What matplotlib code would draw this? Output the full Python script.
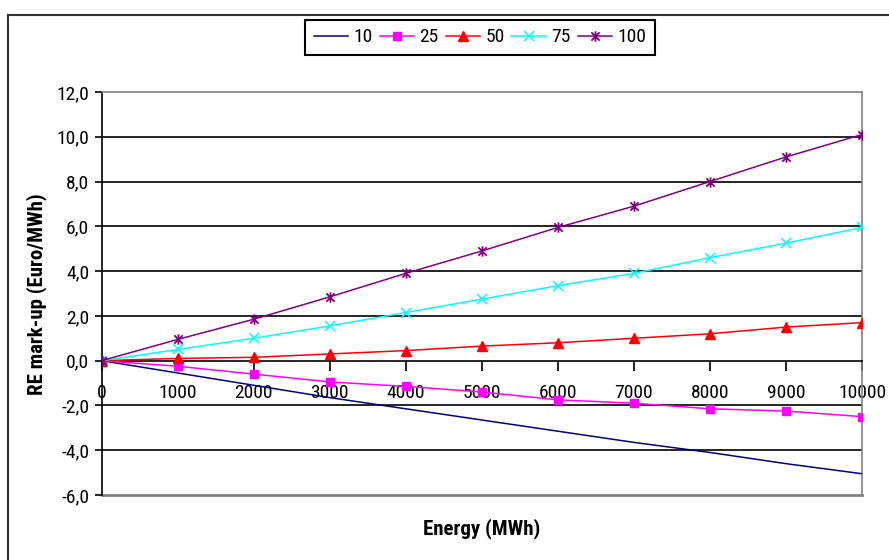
import matplotlib
matplotlib.use("Agg")
import matplotlib.pyplot as plt
from matplotlib.lines import Line2D
from matplotlib.path import Path
from matplotlib.ticker import FuncFormatter
from matplotlib import font_manager

# Energy (MWh) on the x axis
energy = [0, 1000, 2000, 3000, 4000, 5000, 6000, 7000, 8000, 9000, 10000]

# RE mark-up (Euro/MWh) for each scenario
series_labels = ["10", "25", "50", "75", "100"]
markup_10 = [0, -0.55, -1.1, -1.65, -2.15, -2.65, -3.15, -3.65, -4.1, -4.6, -5.05]
markup_25 = [0, -0.25, -0.6, -0.95, -1.15, -1.4, -1.75, -1.9, -2.15, -2.25, -2.5]
markup_50 = [0, 0.1, 0.15, 0.3, 0.45, 0.65, 0.8, 1.0, 1.2, 1.5, 1.7]
markup_75 = [0, 0.5, 1.0, 1.55, 2.15, 2.75, 3.35, 3.9, 4.6, 5.25, 5.95]
markup_100 = [0, 0.95, 1.85, 2.85, 3.9, 4.9, 5.95, 6.9, 8.0, 9.1, 10.1]

y_ticks = [-6, -4, -2, 0, 2, 4, 6, 8, 10, 12]
x_ticks = energy

# condensed sans for all chart text
names = {f.name for f in font_manager.fontManager.ttflist}
family = ["Roboto Condensed", "Liberation Sans", "DejaVu Sans"]
family = [f for f in family if f in names] or ["DejaVu Sans"]
plt.rcParams["font.family"] = family

FS = 14
FS_TITLE = 15

# Excel-style star marker: an X with a vertical bar
star = Path(
    [(-1, -1), (1, 1), (-1, 1), (1, -1), (0, -1.25), (0, 1.25)],
    [Path.MOVETO, Path.LINETO, Path.MOVETO, Path.LINETO, Path.MOVETO, Path.LINETO],
)

W, H = 889, 560
fig = plt.figure(figsize=(W / 100, H / 100), dpi=100)
ax = fig.add_axes([101.7 / W, 1 - 495 / H, (862 - 101.7) / W, (495 - 92) / H])

ax.set_xlim(0, 10000)
ax.set_ylim(-6, 12)

# horizontal gridlines (interior ticks except the zero axis)
for v in y_ticks:
    if v not in (y_ticks[0], y_ticks[-1], 0):
        ax.axhline(v, color="black", lw=1.2, zorder=1)

styles = [
    dict(color="#000080", marker=None),
    dict(color="#FF00FF", marker="s", ms=6),
    dict(color="#FF0000", marker="^", ms=7.5),
    dict(color="#00FFFF", marker="x", ms=7, mew=1.1),
    dict(color="#800080", marker=star, ms=7.5, mew=1.3),
]
data = [markup_10, markup_25, markup_50, markup_75, markup_100]
handles = []
for lab, vals, st in zip(series_labels, data, styles):
    (h,) = ax.plot(energy, vals, lw=1.1, label=lab, zorder=3, **st)
    handles.append(h)

# spines: black y axis, x axis through zero, grey plot-area border
ax.spines["left"].set_color("black")
ax.spines["left"].set_linewidth(1.2)
ax.spines["bottom"].set_position(("data", 0))
ax.spines["bottom"].set_color("black")
ax.spines["bottom"].set_linewidth(1.2)
for s in ("top", "right"):
    ax.spines[s].set_color("#808080")
    ax.spines[s].set_linewidth(1.2)
ax.axhline(y_ticks[0], color="#808080", lw=2.0, zorder=2, clip_on=False)

ax.set_yticks(y_ticks)
ax.yaxis.set_major_formatter(FuncFormatter(lambda v, p: f"{v:.1f}".replace(".", ",")))
ax.set_xticks(x_ticks)
ax.set_xticklabels([str(x) for x in x_ticks])
ax.tick_params(axis="y", direction="out", length=5, width=1.2, pad=4, labelsize=FS)
ax.tick_params(axis="x", direction="out", length=7, width=1.2, pad=9.5, labelsize=FS)

fig.text(482 / W, 1 - 529 / H, "Energy (MWh)", ha="center", va="center",
         fontsize=FS_TITLE, fontweight="bold")
fig.text(37 / W, 1 - 294 / H, "RE mark-up (Euro/MWh)", ha="center", va="center",
         rotation=90, fontsize=FS_TITLE, fontweight="bold")

leg = fig.legend(handles=handles, labels=series_labels, loc="center",
                 bbox_to_anchor=(480 / W, 1 - 37.5 / H), ncol=5, fontsize=FS,
                 frameon=True, fancybox=False, edgecolor="black", framealpha=1,
                 handlelength=1.75, handletextpad=0.3, columnspacing=0.35,
                 borderpad=0.45, borderaxespad=0)
leg.get_frame().set_linewidth(1.5)

# outer chart frame (top and left edges)
fig.add_artist(Line2D([8 / W, 1], [1 - 15 / H, 1 - 15 / H], color="#333333", lw=1.5,
                      transform=fig.transFigure))
fig.add_artist(Line2D([8 / W, 8 / W], [0, 1 - 15 / H], color="#333333", lw=1.5,
                      transform=fig.transFigure))

fig.savefig("out.png", dpi=100)
